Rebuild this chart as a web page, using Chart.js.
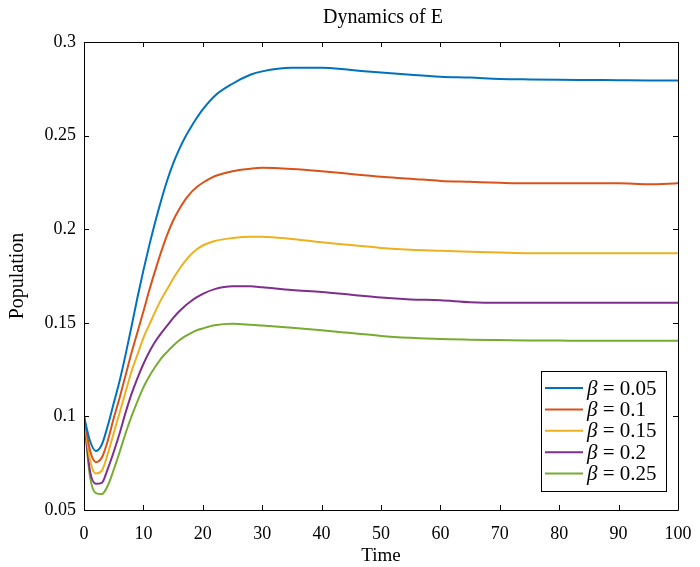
<!DOCTYPE html>
<html>
<head>
<meta charset="utf-8">
<script src="https://cdn.jsdelivr.net/npm/chart.js@4.4.1/dist/chart.umd.min.js"></script>
<style>
html,body{margin:0;padding:0;background:#fff;}
#wrap{width:700px;height:567px;position:relative;}
</style>
</head>
<body>
<div id="wrap"><canvas id="c" width="700" height="567"></canvas></div>
<script>
// ---- data ----
const times = [0,1,2,3,4,5,6,7,8,9,10,11,12,13,14,15,16,17,18,19,20,22,25,28,30,35,40,45,50,55,60,65,70,75,80,85,90,95,100];
const betas = [0.05, 0.1, 0.15, 0.2, 0.25];
const E_beta005 = [0.100,0.087,0.0815,0.085,0.095,0.107,0.119,0.133,0.148,0.1635,0.178,0.1915,0.204,0.2155,0.226,0.235,0.2425,0.249,0.2545,0.2595,0.264,0.2712,0.2777,0.2825,0.2843,0.2862,0.2863,0.285,0.2837,0.2825,0.2815,0.281,0.2803,0.2800,0.2798,0.2797,0.2796,0.2795,0.2795];
const E_beta010 = [0.100,0.082,0.0755,0.078,0.087,0.099,0.110,0.122,0.134,0.145,0.156,0.1675,0.178,0.188,0.197,0.2045,0.2105,0.2155,0.2195,0.2225,0.2248,0.2283,0.231,0.2323,0.2328,0.2322,0.231,0.2295,0.228,0.227,0.2258,0.2253,0.2248,0.2245,0.2245,0.2245,0.2245,0.2240,0.2245];
const E_beta015 = [0.100,0.077,0.0695,0.071,0.080,0.091,0.102,0.113,0.124,0.133,0.142,0.149,0.156,0.1625,0.168,0.1735,0.1785,0.1828,0.1865,0.1893,0.1913,0.1937,0.1953,0.196,0.196,0.1948,0.193,0.1915,0.190,0.189,0.1885,0.188,0.1875,0.1871,0.1871,0.1871,0.1871,0.1871,0.1871];
const E_beta020 = [0.100,0.071,0.064,0.0645,0.072,0.081,0.091,0.102,0.112,0.1205,0.128,0.1345,0.140,0.1445,0.1485,0.1525,0.156,0.159,0.1615,0.1637,0.1655,0.168,0.1695,0.1695,0.169,0.1675,0.1665,0.165,0.1635,0.1625,0.162,0.161,0.1607,0.1607,0.1607,0.1607,0.1607,0.1607,0.1607];
const E_beta025 = [0.100,0.068,0.059,0.0585,0.063,0.0715,0.081,0.091,0.100,0.108,0.1155,0.1215,0.1265,0.131,0.1345,0.1377,0.1405,0.1427,0.1445,0.146,0.147,0.1487,0.1495,0.149,0.1485,0.1473,0.146,0.1445,0.143,0.142,0.1413,0.141,0.1408,0.1406,0.1405,0.1404,0.1404,0.1404,0.1404];
const xTickValues = [0,10,20,30,40,50,60,70,80,90,100];
const yTickValues = [0.05,0.1,0.15,0.2,0.25,0.3];
const titleText = 'Dynamics of E';
const seriesColors = ['#0072BD','#D95319','#EDB120','#7E2F8E','#77AC30'];
const allSeries = [E_beta005,E_beta010,E_beta015,E_beta020,E_beta025];

const datasets = allSeries.map((arr,i)=>({
  label: 'β = ' + betas[i],
  data: arr.map((v,k)=>({x: times[k], y: v})),
  borderColor: seriesColors[i],
  backgroundColor: seriesColors[i],
  borderWidth: 2,
  pointRadius: 0,
  fill: false,
  cubicInterpolationMode: 'monotone'
}));

const SERIF = '"Liberation Serif", "Times New Roman", serif';

// inward ticks + box + title centred over axes
const boxTicks = {
  id: 'boxTicks',
  afterDraw(chart){
    const {ctx, chartArea:a, scales:{x,y}} = chart;
    ctx.save();
    ctx.strokeStyle = '#000';
    ctx.lineWidth = 1;
    ctx.beginPath();
    ctx.rect(Math.round(a.left)+0.5, Math.round(a.top)+0.5, Math.round(a.right-a.left), Math.round(a.bottom-a.top));
    ctx.stroke();
    const L = 5;
    ctx.beginPath();
    x.ticks.forEach(t=>{
      const px = Math.round(x.getPixelForValue(t.value))+0.5;
      ctx.moveTo(px, a.bottom); ctx.lineTo(px, a.bottom-L);
      ctx.moveTo(px, a.top); ctx.lineTo(px, a.top+L);
    });
    y.ticks.forEach(t=>{
      const py = Math.round(y.getPixelForValue(t.value))+0.5;
      ctx.moveTo(a.left, py); ctx.lineTo(a.left+L, py);
      ctx.moveTo(a.right, py); ctx.lineTo(a.right-L, py);
    });
    ctx.stroke();
    ctx.fillStyle = '#000';
    ctx.font = '20px ' + SERIF;
    ctx.textAlign = 'center';
    ctx.textBaseline = 'middle';
    ctx.fillText(titleText, (a.left + a.right)/2 + 2, 18);
    ctx.restore();
  }
};

// legend with italic beta
const betaLegend = {
  id: 'betaLegend',
  afterDraw(chart){
    const ctx = chart.ctx;
    const bx = 541, by = 371, bw = 125, bh = 120;
    ctx.save();
    ctx.fillStyle = '#fff';
    ctx.fillRect(bx, by, bw, bh);
    ctx.strokeStyle = '#000';
    ctx.lineWidth = 1;
    ctx.strokeRect(bx+0.5, by+0.5, bw, bh);
    const rowH = 21.4, y0 = by + 17;
    chart.data.datasets.forEach((ds,i)=>{
      const yy = y0 + i*rowH;
      ctx.strokeStyle = ds.borderColor;
      ctx.lineWidth = 2;
      ctx.beginPath();
      ctx.moveTo(545, yy); ctx.lineTo(583, yy);
      ctx.stroke();
      ctx.fillStyle = '#000';
      ctx.textBaseline = 'middle';
      ctx.textAlign = 'left';
      const sym = ds.label.charAt(0);
      const rest = ds.label.slice(1);
      ctx.font = 'italic 21px ' + SERIF;
      ctx.fillText(sym, 587, yy+1);
      const w = ctx.measureText(sym).width;
      ctx.font = '21px ' + SERIF;
      ctx.fillText(rest, 587 + w, yy+1);
    });
    ctx.restore();
  }
};

new Chart(document.getElementById('c'), {
  type: 'line',
  data: { datasets },
  options: {
    responsive: false,
    animation: false,
    layout: { padding: { left: 0, right: 22, top: 42, bottom: 0 } },
    plugins: {
      legend: { display: false },
      tooltip: { enabled: false },
      title: { display: false }
    },
    scales: {
      x: {
        type: 'linear',
        min: 0, max: 100,
        afterBuildTicks: s => { s.ticks = xTickValues.map(v=>({value:v})); },
        afterFit: s => { s.height = 57; s.paddingRight = 0; s.paddingLeft = 0; },
        grid: { display: false, drawTicks: false },
        border: { display: false },
        ticks: { color: '#000', font: { family: SERIF, size: 18 }, padding: 13, maxRotation: 0, autoSkip: false,
                 callback: v => String(v) },
        title: { display: true, text: 'Time', color: '#000', font: { family: SERIF, size: 19 }, padding: { top: 0, bottom: 0 } }
      },
      y: {
        type: 'linear',
        min: 0.05, max: 0.3,
        afterBuildTicks: s => { s.ticks = yTickValues.map(v=>({value:v})); },
        afterFit: s => { s.width = 84; s.paddingTop = 0; s.paddingBottom = 0; },
        grid: { display: false, drawTicks: false },
        border: { display: false },
        ticks: { color: '#000', font: { family: SERIF, size: 18 }, padding: 8, autoSkip: false,
                 callback: v => String(Number(v.toFixed(2))) },
        title: { display: true, text: 'Population', color: '#000', font: { family: SERIF, size: 20 }, padding: { top: 6, bottom: 0 } }
      }
    }
  },
  plugins: [boxTicks, betaLegend]
});
</script>
</body>
</html>
